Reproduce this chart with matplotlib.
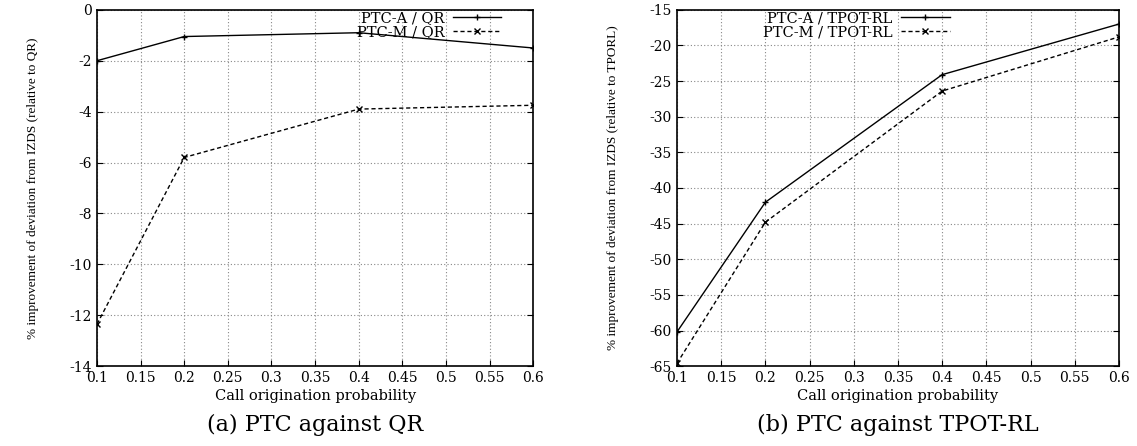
import matplotlib
matplotlib.use('Agg')
import matplotlib.pyplot as plt
import numpy as np

plt.rcParams['font.family'] = ['DejaVu Serif']
plt.rcParams['axes.unicode_minus'] = False

x = [0.1, 0.2, 0.4, 0.6]

qr_a = [-2.0, -1.05, -0.9, -1.5]
qr_m = [-12.35, -5.8, -3.9, -3.75]

tpot_a = [-60.2, -42.0, -24.1, -17.0]
tpot_m = [-64.6, -44.8, -26.4, -18.8]

xticks = [0.1, 0.15, 0.2, 0.25, 0.3, 0.35, 0.4, 0.45, 0.5, 0.55, 0.6]


def draw_panel(ax, ya, ym, label_a, label_m, ylim, ystep, ylabel, caption,
               legend_right):

    ax.plot(x, ya, color='black', linewidth=1, marker='+', markersize=5,
            label=label_a)
    ax.plot(x, ym, color='black', linewidth=1, linestyle=(0, (3, 2)),
            marker='x', markersize=4, label=label_m)

    ax.set_xlim(0.1, 0.6)
    ax.set_ylim(*ylim)
    ax.set_xticks(xticks)
    ax.set_xticklabels([f'{t:g}' for t in xticks])
    ax.set_yticks(np.arange(ylim[0], ylim[1] + 0.1, ystep))

    ax.grid(True, color='#888888', linestyle=(0, (1, 2)), linewidth=0.8)
    ax.tick_params(direction='in', labelsize=10, length=4,
                   top=False, right=True)
    for s in ax.spines.values():
        s.set_linewidth(1.2)

    ax.set_xlabel('Call origination probability', fontsize=10.5, labelpad=3)
    ax.set_ylabel(ylabel, fontsize=9.5, family='Liberation Serif',
                  labelpad=22)

    ax.legend(loc='upper right', bbox_to_anchor=(legend_right, 1.0),
              frameon=False, markerfirst=False, fontsize=10.5,
              handlelength=3.3, handletextpad=0.6, numpoints=1,
              borderaxespad=0.0, labelspacing=0.0, borderpad=0.1)

    ax.text(0.5, -0.135, caption, transform=ax.transAxes, ha='center',
            va='top', fontsize=16)


fig = plt.figure(figsize=(11.37, 4.46), dpi=100)

ax1 = fig.add_axes([0.0853, 0.179, 0.3837, 0.799])
ax2 = fig.add_axes([0.5954, 0.179, 0.3887, 0.799])

draw_panel(ax1, qr_a, qr_m, 'PTC-A / QR', 'PTC-M / QR', (-14, 0), 2,
           '% improvement of deviation from IZDS (relative to QR)',
           '(a) PTC against QR', 0.93)
draw_panel(ax2, tpot_a, tpot_m, 'PTC-A / TPOT-RL', 'PTC-M / TPOT-RL',
           (-65, -15), 5,
           '% improvement of deviation from IZDS (relative to TPORL)',
           '(b) PTC against TPOT-RL', 0.62)

fig.savefig('out.png', dpi=100)
plt.close()
